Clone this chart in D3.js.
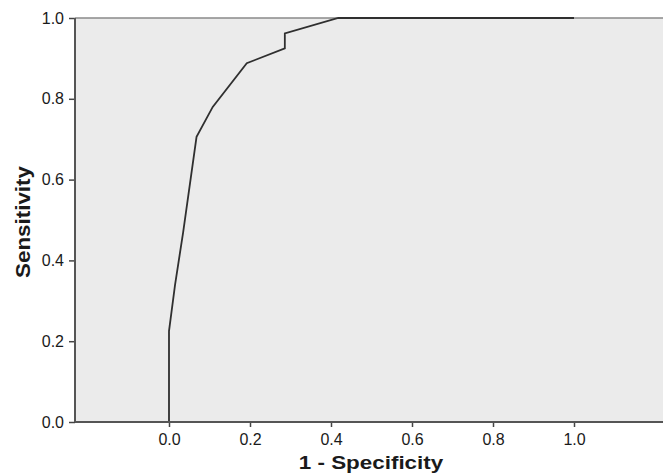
<!DOCTYPE html>
<html>
<head>
<meta charset="utf-8">
<script src="https://cdn.jsdelivr.net/npm/d3@7"></script>
<style>
  body { margin: 0; background: #fff; }
  text { font-family: "Liberation Sans", Arial, sans-serif; }
</style>
</head>
<body>
<div id="roc"></div>
<script>
var outerWidth = 663, outerHeight = 475

// ROC curve points
var fpr = [0, 0, 0.015, 0.035, 0.068, 0.108, 0.192, 0.286, 0.286, 0.418, 1.0]
var tpr = [0, 0.225, 0.34, 0.47, 0.706, 0.78, 0.888, 0.925, 0.962, 1.0, 1.0]

var xTicks = [0, 0.2, 0.4, 0.6, 0.8, 1.0]
var yTicks = [0, 0.2, 0.4, 0.6, 0.8, 1.0]

var plotLeft = 75, plotTop = 18, plotBottom = 422

var svg = d3.select("#roc").append("svg")
    .attr("width", outerWidth)
    .attr("height", outerHeight)

var xScale = d3.scaleLinear().domain([0, 1]).range([169, 574])
var yScale = d3.scaleLinear().domain([0, 1]).range([plotBottom, plotTop])

// grey plot background, runs off the right edge
svg.append("rect")
    .attr("x", plotLeft)
    .attr("y", plotTop)
    .attr("width", outerWidth - plotLeft)
    .attr("height", plotBottom - plotTop)
    .attr("fill", "#ebebeb")

// top frame
svg.append("line")
    .attr("x1", plotLeft).attr("x2", outerWidth)
    .attr("y1", plotTop).attr("y2", plotTop)
    .attr("stroke", "#8a8a8a").attr("stroke-width", 1.5)

var line = d3.line()
    .x(function(d) { return xScale(d[0]) })
    .y(function(d) { return yScale(d[1]) })

svg.append("path")
    .datum(fpr.map(function(v, i) { return [v, tpr[i]] }))
    .attr("d", line)
    .attr("fill", "none")
    .attr("stroke", "#2f2f2f")
    .attr("stroke-width", 1.8)

// axes
var xAxis = d3.axisBottom(xScale).tickValues(xTicks).tickFormat(d3.format(".1f")).tickSize(5).tickPadding(7)
var yAxis = d3.axisLeft(yScale).tickValues(yTicks).tickFormat(d3.format(".1f")).tickSize(6).tickPadding(5)

var gx = svg.append("g").attr("transform", "translate(0," + plotBottom + ")").call(xAxis)
gx.select(".domain").remove()
gx.selectAll(".tick line").attr("stroke", "#444").attr("stroke-width", 1.5)
gx.selectAll(".tick text").attr("fill", "#1a1a1a").attr("font-size", "16px")

var gy = svg.append("g").attr("transform", "translate(" + plotLeft + ",0)").call(yAxis)
gy.select(".domain").remove()
gy.selectAll(".tick line").attr("stroke", "#444").attr("stroke-width", 1.5)
gy.selectAll(".tick text").attr("fill", "#1a1a1a").attr("font-size", "16px")

// axis lines
svg.append("line")
    .attr("x1", plotLeft).attr("x2", plotLeft)
    .attr("y1", plotTop).attr("y2", plotBottom)
    .attr("stroke", "#555").attr("stroke-width", 2)
svg.append("line")
    .attr("x1", plotLeft).attr("x2", outerWidth)
    .attr("y1", plotBottom).attr("y2", plotBottom)
    .attr("stroke", "#555").attr("stroke-width", 2)

// titles (glyphs in the source look a little wide)
svg.append("text")
    .attr("transform", "translate(371,469) scale(1.18,1)")
    .attr("text-anchor", "middle")
    .attr("font-size", "19px")
    .attr("font-weight", "bold")
    .attr("fill", "#1a1a1a")
    .text("1 - Specificity")

svg.append("text")
    .attr("transform", "translate(30,222) rotate(-90) scale(1.12,1)")
    .attr("text-anchor", "middle")
    .attr("font-size", "20px")
    .attr("font-weight", "bold")
    .attr("fill", "#1a1a1a")
    .text("Sensitivity")
</script>
</body>
</html>
